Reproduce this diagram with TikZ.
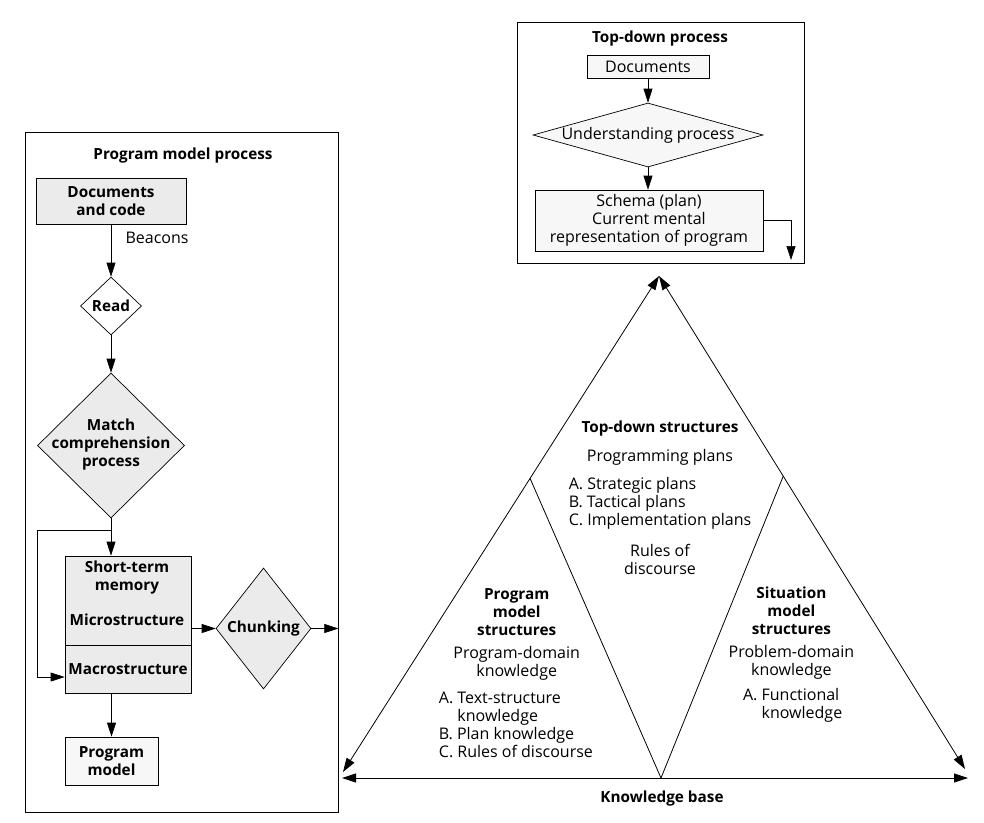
\documentclass[tikz,border=0pt]{standalone}
\usepackage{fontspec}
\setmainfont{Open Sans}
\usetikzlibrary{shapes.geometric,arrows.meta,calc}
\begin{document}
\begin{tikzpicture}[x=1pt,y=-1pt,
  every node/.style={font=\fontsize{16}{18}\selectfont, inner sep=0pt, align=center},
  bold/.style={font=\fontsize{15.3}{18}\selectfont\bfseries},
  frame/.style={draw, line width=0.7pt},
  shade/.style={frame, fill=gray!16},
  lshade/.style={frame, fill=gray!6},
  diam/.style={diamond, aspect=1},
  conn/.style={line width=0.7pt},
  arr/.style={conn, -{Triangle[length=14pt,width=9pt]}},
  tri/.style={line width=0.8pt},
  biarr/.style={tri, {Triangle[length=14pt,width=9pt]}-{Triangle[length=14pt,width=9pt]}}]
\useasboundingbox (0,0) rectangle (984,822);
\fill[white] (0,0) rectangle (984,822);

% ---------- Program model process ----------
\node[frame, minimum width=313pt, minimum height=680pt] (pmbox) at (181.5,472) {};
\node[bold] (pmtitle) at (183,156) {Program model process};
\node[shade, bold, minimum width=150pt, minimum height=46pt] (docs) at (111,201) {Documents\\and code};
\node (beacons) at (157,238) {Beacons};
\node[diam, frame, fill=white, minimum width=61pt, minimum height=58pt] (read) at (111,306) {};
\node[bold] (readt) at (read) {Read};
\node[diam, shade, minimum width=147pt, minimum height=145pt] (match) at (111,445.5) {};
\node[bold] (matcht) at (111,445) {Match\\comprehension\\process};
\node[shade, minimum width=126pt, minimum height=89pt] (stm) at (128,600.5) {};
\node[bold] (stmt) at (127,578) {Short-term\\memory};
\node[bold] (micro) at (127,620) {Microstructure};
\node[shade, bold, minimum width=126pt, minimum height=48pt] (macro) at (128,669) {Macrostructure};
\node[diam, shade, minimum width=95pt, minimum height=121pt] (chunk) at (263.5,628.5) {};
\node[bold] (chunkt) at (chunk) {Chunking};
\node[lshade, bold, minimum width=93pt, minimum height=48pt] (pm) at (111.5,761) {Program\\model};

\coordinate (brc) at (111,530);
\coordinate (loopc) at (37,677);

\draw[arr] (docs.south) -- (read.north);
\draw[arr] (read.south) -- (match.north);
\draw[arr] (match.south) -- (match.south |- stm.north);
\draw[arr] (brc) -| (loopc) -- (loopc -| macro.west);
\draw[arr] (stm.east |- chunk.west) -- (chunk.west);
\draw[arr] (chunk.east) -- (chunk.east -| pmbox.east);
\draw[arr] (pm.north |- macro.south) -- (pm.north);

% ---------- Top-down process ----------
\node[frame, minimum width=287pt, minimum height=241pt] (tdbox) at (660.5,142.5) {};
\node[bold] (tdtitle) at (660,39) {Top-down process};
\node[lshade, minimum width=122pt, minimum height=23pt] (tddocs) at (648,66.5) {Documents};
\node[diam, lshade, minimum width=230pt, minimum height=64pt] (und) at (648,135) {};
\node (undt) at (und) {Understanding process};
\node[lshade, minimum width=228pt, minimum height=61pt] (schema) at (649,220.5) {Schema (plan)\\Current mental\\representation of program};
\coordinate (fbend) at (791,260);

\draw[arr] (tddocs.south) -- (und.north);
\draw[arr] (und.south) -- (und.south |- schema.north);
\draw[arr] (schema.east) -| (fbend);

% ---------- Knowledge triangle ----------
\coordinate (apex) at (659,276);
\coordinate (bl) at (343,772);
\coordinate (brr) at (965,769);
\coordinate (bbl) at (342,778);
\coordinate (bbr) at (968,778);
\coordinate (bm) at (661,778);
\coordinate (il) at ($(bl)!0.592!(apex)$);
\coordinate (ir) at ($(brr)!0.594!(apex)$);

\draw[biarr] (bl) -- (apex);
\draw[biarr] (apex) -- (brr);
\draw[biarr] (bbl) -- (bbr);
\draw[tri] (il) -- (bm) -- (ir);

\node[bold] (tds) at (660,428.5) {Top-down structures};
\node (pplans) at (660,457) {Programming plans};
\node[align=left, anchor=west] (plist) at (568.6,503.4) {A. Strategic plans\\B. Tactical plans\\C. Implementation plans};
\node (rod) at (660,559) {Rules of\\discourse};

\node[bold] (pms) at (516.7,612.5) {Program\\model\\structures};
\node (pdk) at (516.7,663.5) {Program-domain\\knowledge};
\node[align=left, anchor=west] (pklist) at (438.7,724.5) {A. Text-structure\\\phantom{A. }knowledge\\B. Plan knowledge\\C. Rules of discourse};

\node[bold] (sms) at (791.4,611) {Situation\\model\\structures};
\node (prk) at (791.4,662.5) {Problem-domain\\knowledge};
\node[align=left, anchor=west] (fklist) at (742.9,705) {A. Functional\\\phantom{A. }knowledge};

\node[bold] (kb) at (662,799) {Knowledge base};
\end{tikzpicture}
\end{document}
